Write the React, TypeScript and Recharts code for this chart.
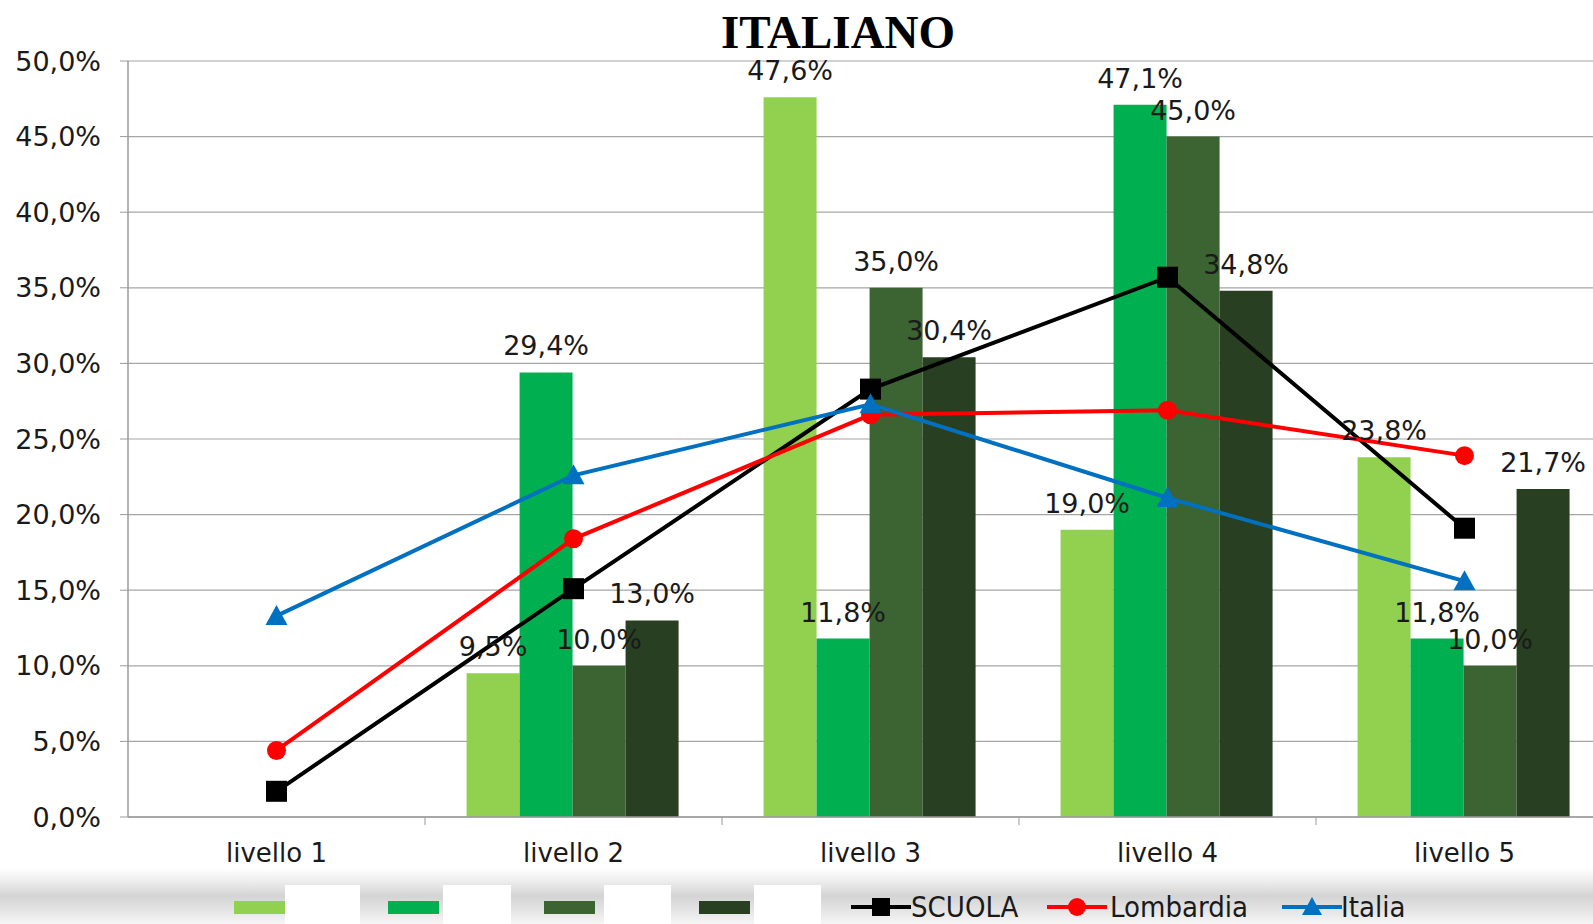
import { Bar, CartesianGrid, ComposedChart, LabelList, Line, XAxis, YAxis } from "recharts";

const levels = ["livello 1", "livello 2", "livello 3", "livello 4", "livello 5"];
// bar series (legend names are blanked out in the source)
const serie1 = [null, 9.5, 47.6, 19.0, 23.8];
const serie2 = [null, 29.4, 11.8, 47.1, 11.8];
const serie3 = [null, 10.0, 35.0, 45.0, 10.0];
const serie4 = [null, 13.0, 30.4, 34.8, 21.7];
// line series
const scuola = [1.7, 15.1, 28.3, 35.7, 19.1];
const lombardia = [4.4, 18.4, 26.6, 26.9, 23.9];
const italia = [13.3, 22.6, 27.3, 21.1, 15.6];
const yTicks = [0, 5, 10, 15, 20, 25, 30, 35, 40, 45, 50];

const data = levels.map((name, i) => ({
  name,
  s1: serie1[i],
  s2: serie2[i],
  s3: serie3[i],
  s4: serie4[i],
  scuola: scuola[i],
  lombardia: lombardia[i],
  italia: italia[i],
}));

const FONT = "'DejaVu Sans', Verdana, sans-serif";
const BAR_COLORS = ["#92D050", "#00B050", "#3C6332", "#283F22"];
const BAND = 297;
const X_TICK_GAP = 27;

const pct = (v: number | null) => (v == null ? "" : v.toFixed(1).replace(".", ",") + "%");

function SquareDot(props: any) {
  const { cx, cy } = props;
  if (cx == null || cy == null) return null;
  return <rect x={cx - 10.5} y={cy - 10.5} width={21} height={21} fill="#000" />;
}

function CircleDot(props: any) {
  const { cx, cy } = props;
  if (cx == null || cy == null) return null;
  return <circle cx={cx} cy={cy} r={9.5} fill="#FF0000" />;
}

function TriangleDot(props: any) {
  const { cx, cy } = props;
  if (cx == null || cy == null) return null;
  return <polygon points={`${cx},${cy - 11} ${cx + 11},${cy + 9} ${cx - 11},${cy + 9}`} fill="#0070C0" />;
}

function CategoryTick(props: any) {
  const { x, y, payload } = props;
  const axisY = y - X_TICK_GAP;
  return (
    <g>
      <line x1={x + BAND / 2} x2={x + BAND / 2} y1={axisY} y2={axisY + 8} stroke="#9a9a9a" strokeWidth={1} />
      <text x={x} y={y} dy="0.71em" textAnchor="middle" fontFamily={FONT} fontSize={26} fill="#1a1a1a">
        {payload.value}
      </text>
    </g>
  );
}

function LegendLine({ left, color, marker }: { left: number; color: string; marker: "square" | "circle" | "triangle" }) {
  return (
    <svg style={{ position: "absolute", left, top: 895 }} width={60} height={24}>
      <line x1={0} x2={60} y1={12} y2={12} stroke={color} strokeWidth={4} />
      {marker === "square" && <rect x={21} y={3} width={18} height={18} fill={color} />}
      {marker === "circle" && <circle cx={30} cy={12} r={9} fill={color} />}
      {marker === "triangle" && <polygon points="30,2 40,20 20,20" fill={color} />}
    </svg>
  );
}

function ChartLegend() {
  const swatches = [234, 388, 544, 699];
  const blanks = [
    [285, 75],
    [443, 68],
    [604, 67],
    [754, 67],
  ];
  const textStyle = {
    position: "absolute" as const,
    top: 890,
    fontFamily: "'DejaVu Sans Condensed', 'DejaVu Sans', sans-serif",
    fontSize: 29,
    lineHeight: "34px",
    color: "#1a1a1a",
  };
  return (
    <>
      <div
        style={{
          position: "absolute",
          left: 0,
          top: 868,
          width: 1593,
          height: 56,
          background: "linear-gradient(to bottom, #ffffff 0%, #ececec 25%, #d4d4d4 50%, #e4e4e4 75%, #f6f6f6 100%)",
        }}
      />
      {swatches.map((left, i) => (
        <div
          key={left}
          style={{ position: "absolute", left, top: 901, width: 51, height: 13, background: BAR_COLORS[i] }}
        />
      ))}
      {blanks.map(([left, w]) => (
        <div key={left} style={{ position: "absolute", left, top: 885, width: w, height: 39, background: "#fff" }} />
      ))}
      <LegendLine left={851} color="#000" marker="square" />
      <span style={{ ...textStyle, left: 911 }}>SCUOLA</span>
      <LegendLine left={1047} color="#FF0000" marker="circle" />
      <span style={{ ...textStyle, left: 1110 }}>Lombardia</span>
      <LegendLine left={1282} color="#0070C0" marker="triangle" />
      <span style={{ ...textStyle, left: 1341 }}>Italia</span>
    </>
  );
}

export default function App() {
  return (
    <div
      style={{
        position: "absolute",
        left: 0,
        top: 0,
        width: 1593,
        height: 924,
        overflow: "hidden",
        background: "#fff",
      }}
    >
      <ComposedChart
        width={1615}
        height={924}
        data={data}
        margin={{ top: 61, right: 2, bottom: 47, left: 0 }}
        barCategoryGap="14%"
        barGap={0}
      >
        <CartesianGrid vertical={false} stroke="#a6a6a6" strokeWidth={1.2} />
        <XAxis
          dataKey="name"
          height={60}
          axisLine={{ stroke: "#9a9a9a", strokeWidth: 1.5 }}
          tickLine={false}
          tickSize={0}
          tickMargin={X_TICK_GAP}
          tick={<CategoryTick />}
          interval={0}
        />
        <YAxis
          width={128}
          domain={[0, 50]}
          ticks={yTicks}
          tickFormatter={(v: number) => pct(v)}
          axisLine={{ stroke: "#9a9a9a", strokeWidth: 1.5 }}
          tickLine={{ stroke: "#9a9a9a" }}
          tickSize={8}
          tickMargin={19}
          tick={{ fontFamily: FONT, fontSize: 27, fill: "#1a1a1a" }}
          interval={0}
        />
        {(["s1", "s2", "s3", "s4"] as const).map((key, i) => (
          <Bar key={key} dataKey={key} fill={BAR_COLORS[i]} isAnimationActive={false}>
            <LabelList
              dataKey={key}
              position="top"
              offset={17}
              formatter={(v: any) => pct(v)}
              style={{ fontFamily: FONT, fontSize: 27, fill: "#1a1a1a" }}
            />
          </Bar>
        ))}
        <Line
          dataKey="scuola"
          stroke="#000"
          strokeWidth={4}
          dot={<SquareDot />}
          activeDot={false}
          isAnimationActive={false}
        />
        <Line
          dataKey="lombardia"
          stroke="#FF0000"
          strokeWidth={4}
          dot={<CircleDot />}
          activeDot={false}
          isAnimationActive={false}
        />
        <Line
          dataKey="italia"
          stroke="#0070C0"
          strokeWidth={4}
          dot={<TriangleDot />}
          activeDot={false}
          isAnimationActive={false}
        />
      </ComposedChart>
      <div
        style={{
          position: "absolute",
          left: 638,
          width: 400,
          top: 4,
          textAlign: "center",
          fontFamily: "'Liberation Serif', 'Times New Roman', serif",
          fontWeight: "bold",
          fontSize: 47,
          lineHeight: "56px",
          color: "#000",
        }}
      >
        ITALIANO
      </div>
      <ChartLegend />
    </div>
  );
}
